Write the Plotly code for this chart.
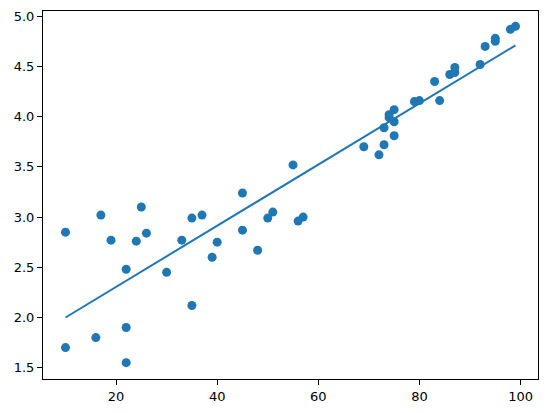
import numpy as np
import plotly.graph_objects as go

x_vals = [10, 17, 25, 19, 26, 24, 33, 35, 37, 40, 39, 22, 30, 35, 22, 16, 10, 22,
          55, 45, 51, 50, 57, 56, 45, 48,
          69, 72, 73, 73, 75, 75, 74, 75, 74, 79, 80, 84, 83, 86, 87, 87, 92, 93, 95, 95, 98, 99]
y_vals = [2.85, 3.02, 3.10, 2.77, 2.84, 2.76, 2.77, 2.99, 3.02, 2.75, 2.60, 2.48, 2.45, 2.12, 1.90, 1.80, 1.70, 1.55,
          3.52, 3.24, 3.05, 2.99, 3.00, 2.96, 2.87, 2.67,
          3.70, 3.62, 3.72, 3.89, 3.81, 3.95, 4.02, 4.07, 3.99, 4.15, 4.16, 4.16, 4.35, 4.42, 4.44, 4.49, 4.52, 4.70, 4.75, 4.78, 4.87, 4.90]

x = np.array(x_vals, dtype=float)
y = np.array(y_vals, dtype=float)
slope, intercept = np.polyfit(x, y, 1)
x_line = np.array([x.min(), x.max()])
y_line = slope * x_line + intercept

blue = "#1f77b4"
fig = go.Figure()
fig.add_trace(go.Scatter(x=x, y=y, mode="markers",
                         marker=dict(color=blue, size=9, line=dict(width=0)),
                         showlegend=False))
fig.add_trace(go.Scatter(x=x_line, y=y_line, mode="lines",
                         line=dict(color=blue, width=2), showlegend=False))

axis_common = dict(showgrid=False, zeroline=False, showline=True, linecolor="black",
                   linewidth=1.1, mirror=True, ticks="outside", ticklen=5, tickwidth=1.1,
                   tickcolor="black", tickfont=dict(family="DejaVu Sans", size=13, color="black"))

fig.update_layout(
    width=547, height=413,
    margin=dict(l=43, r=9, t=11, b=34),
    paper_bgcolor="white", plot_bgcolor="white",
    xaxis=dict(range=[5.55, 103.45], tickvals=[20, 40, 60, 80, 100], **axis_common),
    yaxis=dict(range=[1.3875, 5.0525], tickvals=[1.5, 2.0, 2.5, 3.0, 3.5, 4.0, 4.5, 5.0],
               ticktext=["1.5", "2.0", "2.5", "3.0", "3.5", "4.0", "4.5", "5.0"], **axis_common),
)

fig.write_html("out.html")
